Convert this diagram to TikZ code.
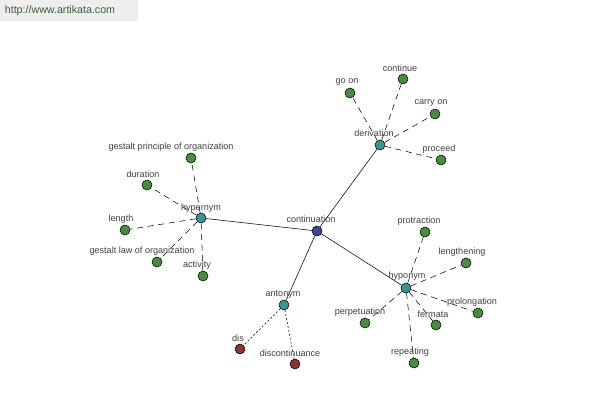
\documentclass[tikz,border=0pt]{standalone}
\usepackage{fontspec}
\setmainfont{Liberation Sans}
\usepackage{xcolor}
\definecolor{hubblue}{RGB}{62,70,150}
\definecolor{hubteal}{RGB}{58,148,150}
\definecolor{leafgreen}{RGB}{72,140,62}
\definecolor{leafred}{RGB}{138,52,52}
\definecolor{labelgray}{RGB}{64,64,64}
\definecolor{bannergray}{RGB}{238,238,238}
\definecolor{bannertext}{RGB}{62,92,62}

\begin{document}
\begin{tikzpicture}[x=0.75pt,y=-0.75pt,
  dot/.style={circle,draw=black,line width=0.4pt,inner sep=0pt,minimum size=7.5pt},
  lbl/.style={text=labelgray,font=\fontsize{6.8}{8}\selectfont,inner sep=0pt},
  word/.style={dot,fill=leafgreen},
  root/.style={dot,fill=hubblue},
  rel/.style={dot,fill=hubteal},
  anti/.style={dot,fill=leafred},
  solidlink/.style={draw=black,line width=0.4pt},
  dashlink/.style={draw=black,line width=0.4pt,dash pattern=on 4.5pt off 3.5pt},
  dotlink/.style={draw=black,line width=0.4pt,dash pattern=on 1.5pt off 1.5pt}]
\useasboundingbox (0,0) rectangle (600,400);
\fill[bannergray] (0,0) rectangle (138,21);
\node at (60,11) [text=bannertext,font=\fontsize{8}{9}\selectfont,inner sep=0pt] (site) {http://www.artikata.com};

% relation hubs
\node at (317,231) [root] (cont) {};
\node at (201,218) [rel] (hyper) {};
\node at (380,145) [rel] (deriv) {};
\node at (406,288) [rel] (hypo) {};
\node at (284,305) [rel] (anto) {};

% hypernym words
\node at (191,158) [word] (gpo) {};
\node at (147,185) [word] (dur) {};
\node at (125,230) [word] (len) {};
\node at (157,262) [word] (glo) {};
\node at (203,276) [word] (act) {};

% derivation words
\node at (350,93) [word] (goon) {};
\node at (403,79) [word] (conte) {};
\node at (435,114) [word] (carry) {};
\node at (441,160) [word] (proc) {};

% hyponym words
\node at (425,232) [word] (protr) {};
\node at (466,263) [word] (lengt) {};
\node at (478,313) [word] (prolo) {};
\node at (436,325) [word] (ferm) {};
\node at (414,363) [word] (repe) {};
\node at (365,323) [word] (perp) {};

% antonym words
\node at (240,349) [anti] (dis) {};
\node at (295,364) [anti] (disc) {};

\draw[solidlink] (cont) -- (hyper);
\draw[solidlink] (cont) -- (deriv);
\draw[solidlink] (cont) -- (hypo);
\draw[solidlink] (cont) -- (anto);
\foreach \w in {gpo,dur,len,glo,act} \draw[dashlink] (hyper) -- (\w);
\foreach \w in {goon,conte,carry,proc} \draw[dashlink] (deriv) -- (\w);
\foreach \w in {protr,lengt,prolo,ferm,repe,perp} \draw[dashlink] (hypo) -- (\w);
\foreach \w in {dis,disc} \draw[dotlink] (anto) -- (\w);

% labels
\node at (311,219) [lbl] (l-cont) {continuation};
\node at (201,208) [lbl] (l-hyper) {hypernym};
\node at (374,133) [lbl] (l-deriv) {derivation};
\node at (407,276) [lbl] (l-hypo) {hyponym};
\node at (283,295) [lbl] (l-anto) {antonym};
\node at (171,147) [lbl] (l-gpo) {gestalt principle of organization};
\node at (143,174) [lbl] (l-dur) {duration};
\node at (121,219) [lbl] (l-len) {length};
\node at (142,251) [lbl] (l-glo) {gestalt law of organization};
\node at (197,265) [lbl] (l-act) {activity};
\node at (347,82) [lbl] (l-goon) {go on};
\node at (400,68) [lbl] (l-conte) {continue};
\node at (431,103) [lbl] (l-carry) {carry on};
\node at (439,149) [lbl] (l-proc) {proceed};
\node at (419,221) [lbl] (l-protr) {protraction};
\node at (462,252) [lbl] (l-lengt) {lengthening};
\node at (472,302) [lbl] (l-prolo) {prolongation};
\node at (433,314) [lbl] (l-ferm) {fermata};
\node at (410,352) [lbl] (l-repe) {repeating};
\node at (360,312) [lbl] (l-perp) {perpetuation};
\node at (238,338) [lbl] (l-dis) {dis};
\node at (290,353) [lbl] (l-disc) {discontinuance};
\end{tikzpicture}
\end{document}
